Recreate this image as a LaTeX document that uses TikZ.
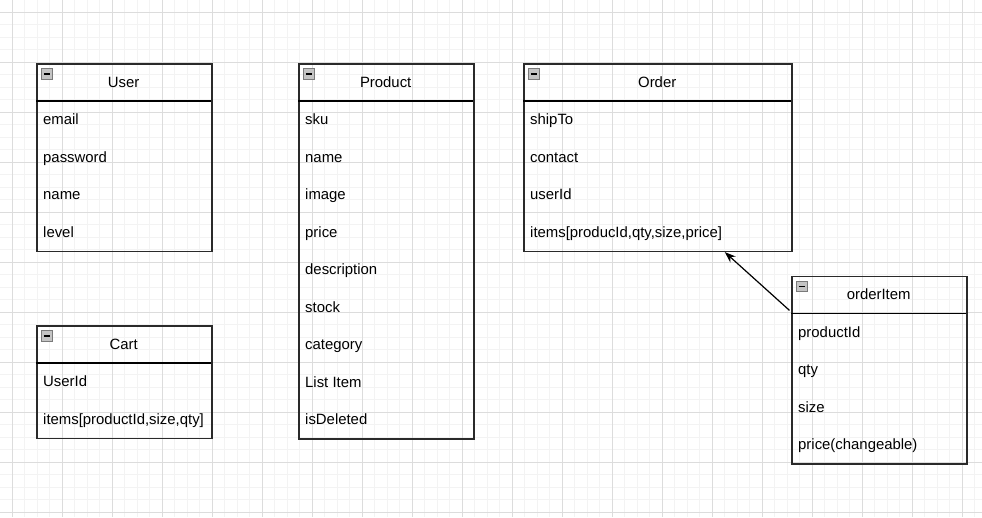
\documentclass[tikz,border=0pt]{standalone}
\usepackage{fontspec}
\setmainfont{Liberation Sans}
\usepackage{tikz}
\usetikzlibrary{arrows.meta,positioning}
\definecolor{gridmajor}{HTML}{DCDCDC}
\definecolor{gridminor}{HTML}{F3F3F3}
\definecolor{boxline}{HTML}{2A2A2A}
\definecolor{iconfill}{HTML}{C4C4C4}
\definecolor{iconline}{HTML}{7A7A7A}

\begin{document}
\begin{tikzpicture}[x=1pt,y=-1pt]
        \tikzstyle{tablebox} = [rectangle, draw=boxline, line width=1.6pt, inner sep=0pt, anchor=north west, minimum width=175pt]
        \tikzstyle{headbox} = [rectangle, inner sep=0pt, anchor=north west, minimum height=37.5pt, minimum width=175pt, font=\fontsize{14.9}{18}\selectfont]
        \tikzstyle{field} = [anchor=west, inner sep=0pt, yshift=-1.5pt, text height=10.7pt, text depth=3pt, font=\fontsize{14.9}{18}\selectfont]
        \tikzstyle{collapse} = [rectangle, draw=iconline, fill=iconfill, line width=1pt, inner sep=0pt, minimum size=10.5pt,
            path picture={\draw[black, line width=1.8pt] ([xshift=2.2pt]path picture bounding box.west) -- ([xshift=-2.2pt]path picture bounding box.east);}]
        \tikzstyle{sep} = [black, line width=1.4pt]
        \useasboundingbox[fill=white] (0,0) rectangle (982,517);
        % background grid
        \foreach \g in {-0.5,12,...,982} \draw[gridminor, line width=1pt] (\g,0) -- (\g,517);
        \foreach \g in {-0.5,12,...,517} \draw[gridminor, line width=1pt] (0,\g) -- (982,\g);
        \foreach \g in {12,62,...,982} \draw[gridmajor, line width=1pt] (\g,0) -- (\g,517);
        \foreach \g in {12,62,...,517} \draw[gridmajor, line width=1pt] (0,\g) -- (982,\g);
        % User
        \node[tablebox, minimum height=187.5pt] (user) at (36,63) {};
        \node[headbox] (user-h) at (36,63) {User};
        \node[collapse] (user-i) at (47,74) {};
        \draw[sep] (user-h.south west) -- (user-h.south east);
        \node[field] (user-1) at (43,119.25) {email};
        \node[field] (user-2) at (43,156.75) {password};
        \node[field] (user-3) at (43,194.25) {name};
        \node[field] (user-4) at (43,231.75) {level};
        % Cart
        \node[tablebox, minimum height=112.5pt] (cart) at (36,325) {};
        \node[headbox] (cart-h) at (36,325) {Cart};
        \node[collapse] (cart-i) at (47,336) {};
        \draw[sep] (cart-h.south west) -- (cart-h.south east);
        \node[field] (cart-1) at (43,381.25) {UserId};
        \node[field] (cart-2) at (43,418.75) {items[productId,size,qty]};
        % Product
        \node[tablebox, minimum height=375pt] (product) at (298,63) {};
        \node[headbox] (product-h) at (298,63) {Product};
        \node[collapse] (product-i) at (309,74) {};
        \draw[sep] (product-h.south west) -- (product-h.south east);
        \node[field] (product-1) at (305,119.25) {sku};
        \node[field] (product-2) at (305,156.75) {name};
        \node[field] (product-3) at (305,194.25) {image};
        \node[field] (product-4) at (305,231.75) {price};
        \node[field] (product-5) at (305,269.25) {description};
        \node[field] (product-6) at (305,306.75) {stock};
        \node[field] (product-7) at (305,344.25) {category};
        \node[field] (product-8) at (305,381.75) {List Item};
        \node[field] (product-9) at (305,419.25) {isDeleted};
        % Order
        \node[tablebox, minimum width=268pt, minimum height=187.5pt] (order) at (523,63) {};
        \node[headbox, minimum width=268pt] (order-h) at (523,63) {Order};
        \node[collapse] (order-i) at (534,74) {};
        \draw[sep] (order-h.south west) -- (order-h.south east);
        \node[field] (order-1) at (530,119.25) {shipTo};
        \node[field] (order-2) at (530,156.75) {contact};
        \node[field] (order-3) at (530,194.25) {userId};
        \node[field] (order-4) at (530,231.75) {items[producId,qty,size,price]};
        % orderItem
        \node[tablebox, minimum height=187.5pt] (item) at (791,275.5) {};
        \node[headbox] (item-h) at (791,275.5) {orderItem};
        \node[collapse] (item-i) at (802,286.5) {};
        \draw[sep] (item-h.south west) -- (item-h.south east);
        \node[field] (item-1) at (798,331.75) {productId};
        \node[field] (item-2) at (798,369.25) {qty};
        \node[field] (item-3) at (798,406.75) {size};
        \node[field] (item-4) at (798,444.25) {price(changeable)};
        % link
        \draw[-{Stealth[length=11pt,width=8pt]}, line width=1.2pt] ([xshift=-1.5pt,yshift=3pt]item-h.south west) -- ([xshift=67pt]order.south);
    \end{tikzpicture}
\end{document}
